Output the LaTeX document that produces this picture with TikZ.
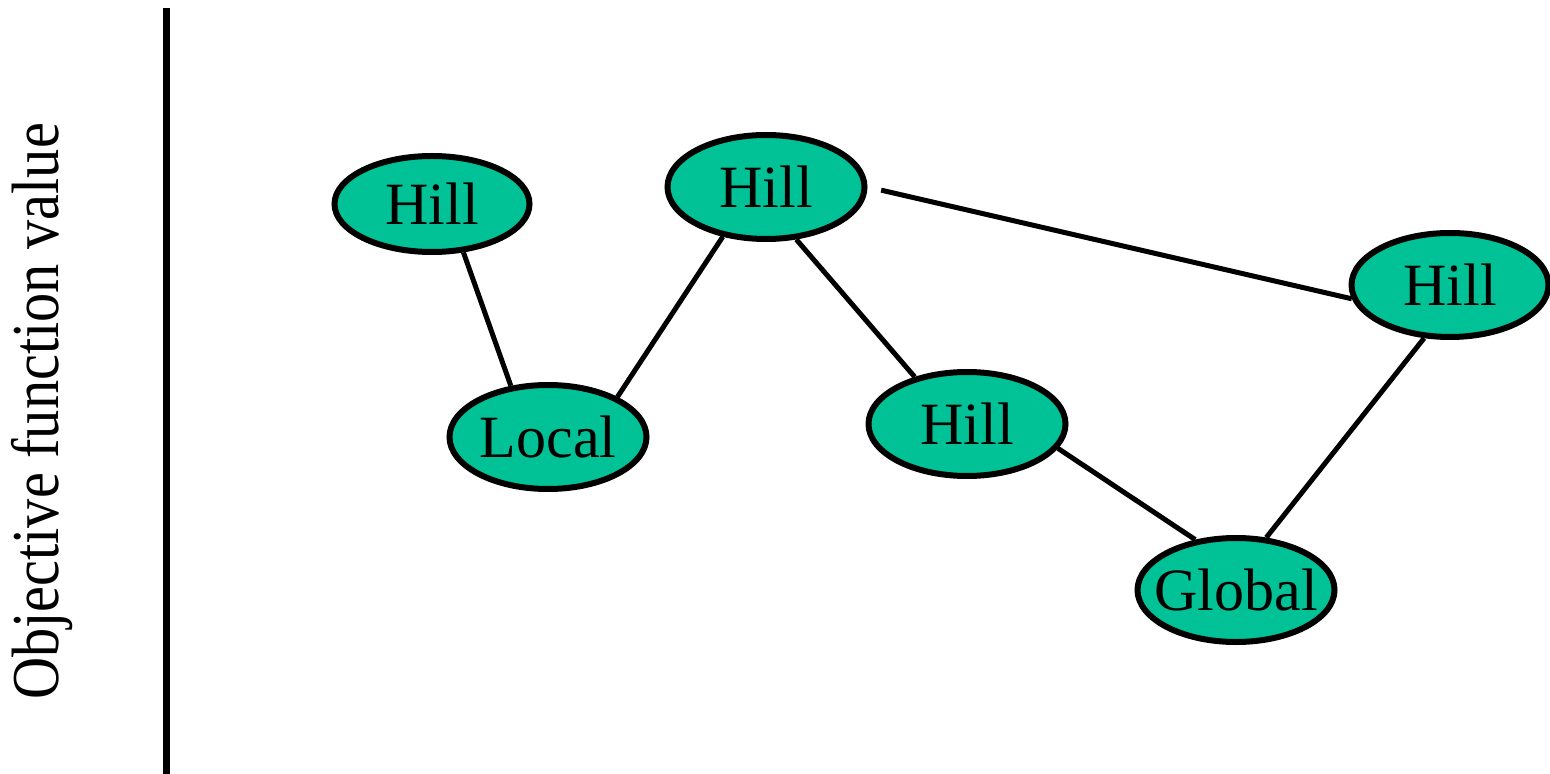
\documentclass[tikz,border=0pt]{standalone}
\usepackage{fontspec}
\setmainfont{Liberation Serif}
\usetikzlibrary{shapes.geometric}
\definecolor{hillfill}{RGB}{0,194,150}
\tikzset{
  hill/.style={ellipse, draw=black, line width=3pt, fill=hillfill,
    minimum width=98.5pt, minimum height=52pt, inner sep=0pt,
    font=\fontsize{30}{36}\selectfont},
  link/.style={line width=2.5pt, black},
}
\begin{document}
\begin{tikzpicture}[x=0.5pt, y=-0.5pt]
\useasboundingbox (0,0) rectangle (1550,774);
\fill[white] (0,0) rectangle (1550,774);

% vertical axis and its label
\coordinate (axtop) at (166.5,8);
\coordinate (axbot) at (166.5,774);
\draw[line width=3.75pt] (axtop) -- (axbot);
\node[rotate=90, anchor=base, inner sep=0pt] (ylab) at (58,411.5)
  {\scalebox{0.871}[1]{\fontsize{33.5}{40}\selectfont Objective function value}};

% landscape points
\node[hill, minimum width=97.5pt, minimum height=48pt] (h1) at (432,204) {Hill};
\node[hill] (h2) at (766,187) {Hill};
\node[hill] (loc) at (548,437) {Local};
\node[hill] (h3) at (967,424) {Hill};
\node[hill] (h4) at (1450,285) {Hill};
\node[hill, inner xsep=-25pt] (glob) at (1236,590) {Global};

% neighbourhood links
\draw[link] (h1.-57) -- (loc.126);
\draw[link] (loc.30) -- (h2.-131);
\draw[link] (h2.-60) -- (h3.138);
\draw[link, shorten <=7pt] (h2.east) -- (h4.188);
\draw[link] (h3.-15) -- (glob.129);
\draw[link] (h4.-116) -- (glob.60);
\end{tikzpicture}
\end{document}
